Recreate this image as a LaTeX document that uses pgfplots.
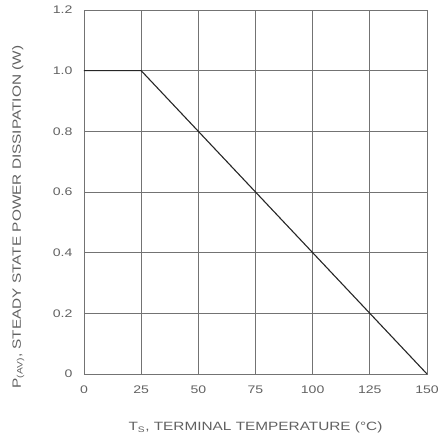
\documentclass[border=0pt]{standalone}
\usepackage{fontspec}
\setmainfont{Liberation Sans}
\newfontfamily\wide[FakeStretch=1.28]{Liberation Sans}
\usepackage{pgfplots}
\pgfplotsset{compat=1.18}
\definecolor{txt}{gray}{0.38}
\definecolor{grd}{gray}{0.45}
\begin{document}
\begin{tikzpicture}
\begin{axis}[
  scale only axis,
  width=343pt, height=364pt,
  xmin=0, xmax=150, ymin=0, ymax=1.2,
  xtick={0,25,50,75,100,125,150},
  ytick={0,0.2,0.4,0.6,0.8,1.0,1.2},
  yticklabels={0,0.2,0.4,0.6,0.8,1.0,1.2},
  grid=major,
  grid style={grd, line width=0.7pt},
  axis line style={grd, line width=0.9pt},
  tick style={draw=none},
  /pgf/number format/assume math mode=true,
  ticklabel style={font=\wide\fontsize{11}{12}\selectfont, text=txt},
  xticklabel style={yshift=-8pt},
  yticklabel style={xshift=-8pt},
  xlabel={T\textsubscript{S}, TERMINAL TEMPERATURE (°C)},
  ylabel={P\textsubscript{(AV)}, STEADY STATE POWER DISSIPATION (W)},
  label style={font=\wide\fontsize{12}{13}\selectfont, text=txt},
  xlabel style={at={(axis description cs:0.5,-0.146)}, anchor=center},
  ylabel style={at={(axis description cs:-0.192,0.431)}, anchor=center},
]
\addplot[black!85, line width=1.1pt] coordinates {(0,1.0) (25,1.0) (150,0)};
\end{axis}
\pgfresetboundingbox
\path (-84pt,-71pt) rectangle (359pt,374pt);
\end{tikzpicture}
\end{document}
